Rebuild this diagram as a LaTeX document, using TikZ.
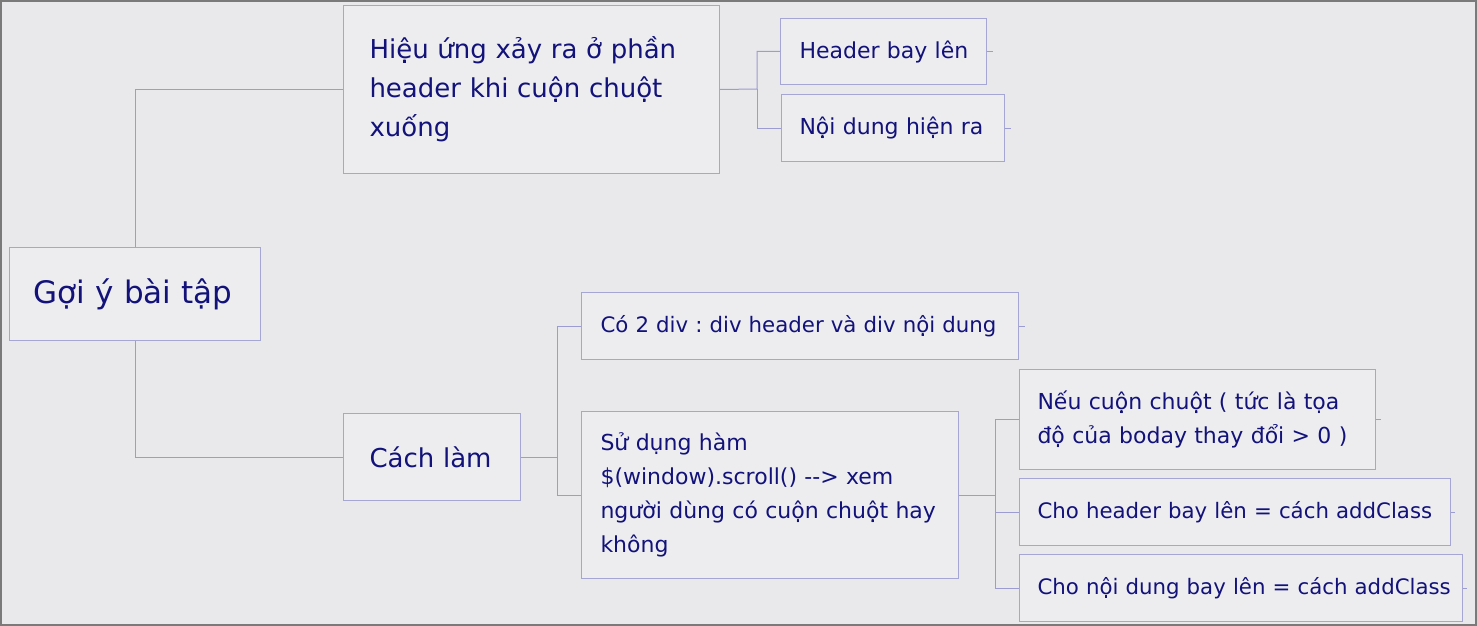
\documentclass[tikz,border=0pt]{standalone}
\usepackage{fontspec}
\setmainfont{DejaVu Sans}
\frenchspacing
\definecolor{bgc}{HTML}{E9E9EC}
\definecolor{boxfill}{HTML}{EDEDF0}
\definecolor{boxline}{HTML}{A6A6D6}
\definecolor{linkc}{HTML}{9C9CD2}
\definecolor{txt}{HTML}{12127A}
\definecolor{framec}{HTML}{7A7A7A}
\tikzset{
  box/.style={draw=boxline, line width=1pt, fill=boxfill, text=txt, align=left,
    anchor=north west, inner ysep=0pt},
  big/.style={font=\fontsize{31}{38}\selectfont},
  mid/.style={font=\fontsize{26}{39}\selectfont},
  small/.style={font=\fontsize{22}{34}\selectfont},
  smaller/.style={font=\fontsize{21.3}{34}\selectfont},
  link/.style={draw=linkc, line width=1pt},
}
\begin{document}
\begin{tikzpicture}[x=1pt,y=-1pt]
\fill[bgc] (0,0) rectangle (1477,626);
\useasboundingbox (0,0) rectangle (1477,626);
% root
\node[box,big,inner xsep=24pt,text width=203pt,minimum height=93pt] (root) at (9,247) {\mbox{Gợi ý bài tập}};
% level 1
\node[box,mid,inner xsep=26pt,text width=324pt,minimum height=168pt] (hieu) at (343,5)
  {\mbox{Hiệu ứng xảy ra ở phần}\\\mbox{header khi cuộn chuột}\\\mbox{xuống}};
\node[box,mid,inner xsep=26pt,text width=125pt,minimum height=87pt] (cach) at (343,413) {\mbox{Cách làm}};
% level 2 (top)
\node[box,small,inner xsep=19pt,text width=168pt,minimum height=66pt] (hb) at (780,18) {\mbox{Header bay lên}};
\node[box,small,inner xsep=18pt,text width=187pt,minimum height=67pt] (nd) at (781,94) {\mbox{Nội dung hiện ra}};
% level 2 (bottom)
\node[box,smaller,inner xsep=19pt,text width=399pt,minimum height=67pt] (co) at (581,292) {\mbox{Có 2 div : div header và div nội dung}};
\node[box,small,inner xsep=19pt,text width=339pt,minimum height=167pt] (su) at (581,411)
  {\mbox{Sử dụng hàm}\\\mbox{\$(window).scroll() -{}-> xem}\\\mbox{người dùng có cuộn chuột hay}\\\mbox{không}};
% level 3
\node[box,small,inner xsep=18pt,text width=320pt,minimum height=100pt] (neu) at (1019,369)
  {\mbox{Nếu cuộn chuột ( tức là tọa}\\\mbox{độ của boday thay đổi > 0 )}};
\node[box,smaller,inner xsep=18pt,text width=395pt,minimum height=67pt] (ch) at (1019,478) {\mbox{Cho header bay lên = cách addClass}};
\node[box,smaller,inner xsep=18pt,text width=407pt,minimum height=67pt] (cn) at (1019,554) {\mbox{Cho nội dung bay lên = cách addClass}};
% junctions
\coordinate (j1) at (757,89);
\coordinate (j2) at (557,457);
\coordinate (j3) at (995,495);
% connectors
\draw[link] (root.north) |- (hieu.west);
\draw[link] (root.south) |- (cach.west);
\draw[link] (hieu.east) -- (j1) |- (hb.west);
\draw[link] (j1) |- (nd.west);
\draw[link] (cach.east) -- (j2) |- (co.west);
\draw[link] (j2) |- (su.west);
\draw[link] (su.east) -- (j3) |- (neu.west);
\draw[link] (j3) |- (ch.west);
\draw[link] (j3) |- (cn.west);
% stubs
\draw[link] (hb.east) -- ++(6,0);
\draw[link] (nd.east) -- ++(6,0);
\draw[link] (co.east) -- ++(6,0);
\draw[link] (neu.east) -- ++(5,0);
\draw[link] (ch.east) -- ++(4,0);
\draw[link] (cn.east) -- ++(4,0);
% outer frame
\draw[framec, line width=2pt] (1,1) rectangle (1476,625);
\end{tikzpicture}
\end{document}
